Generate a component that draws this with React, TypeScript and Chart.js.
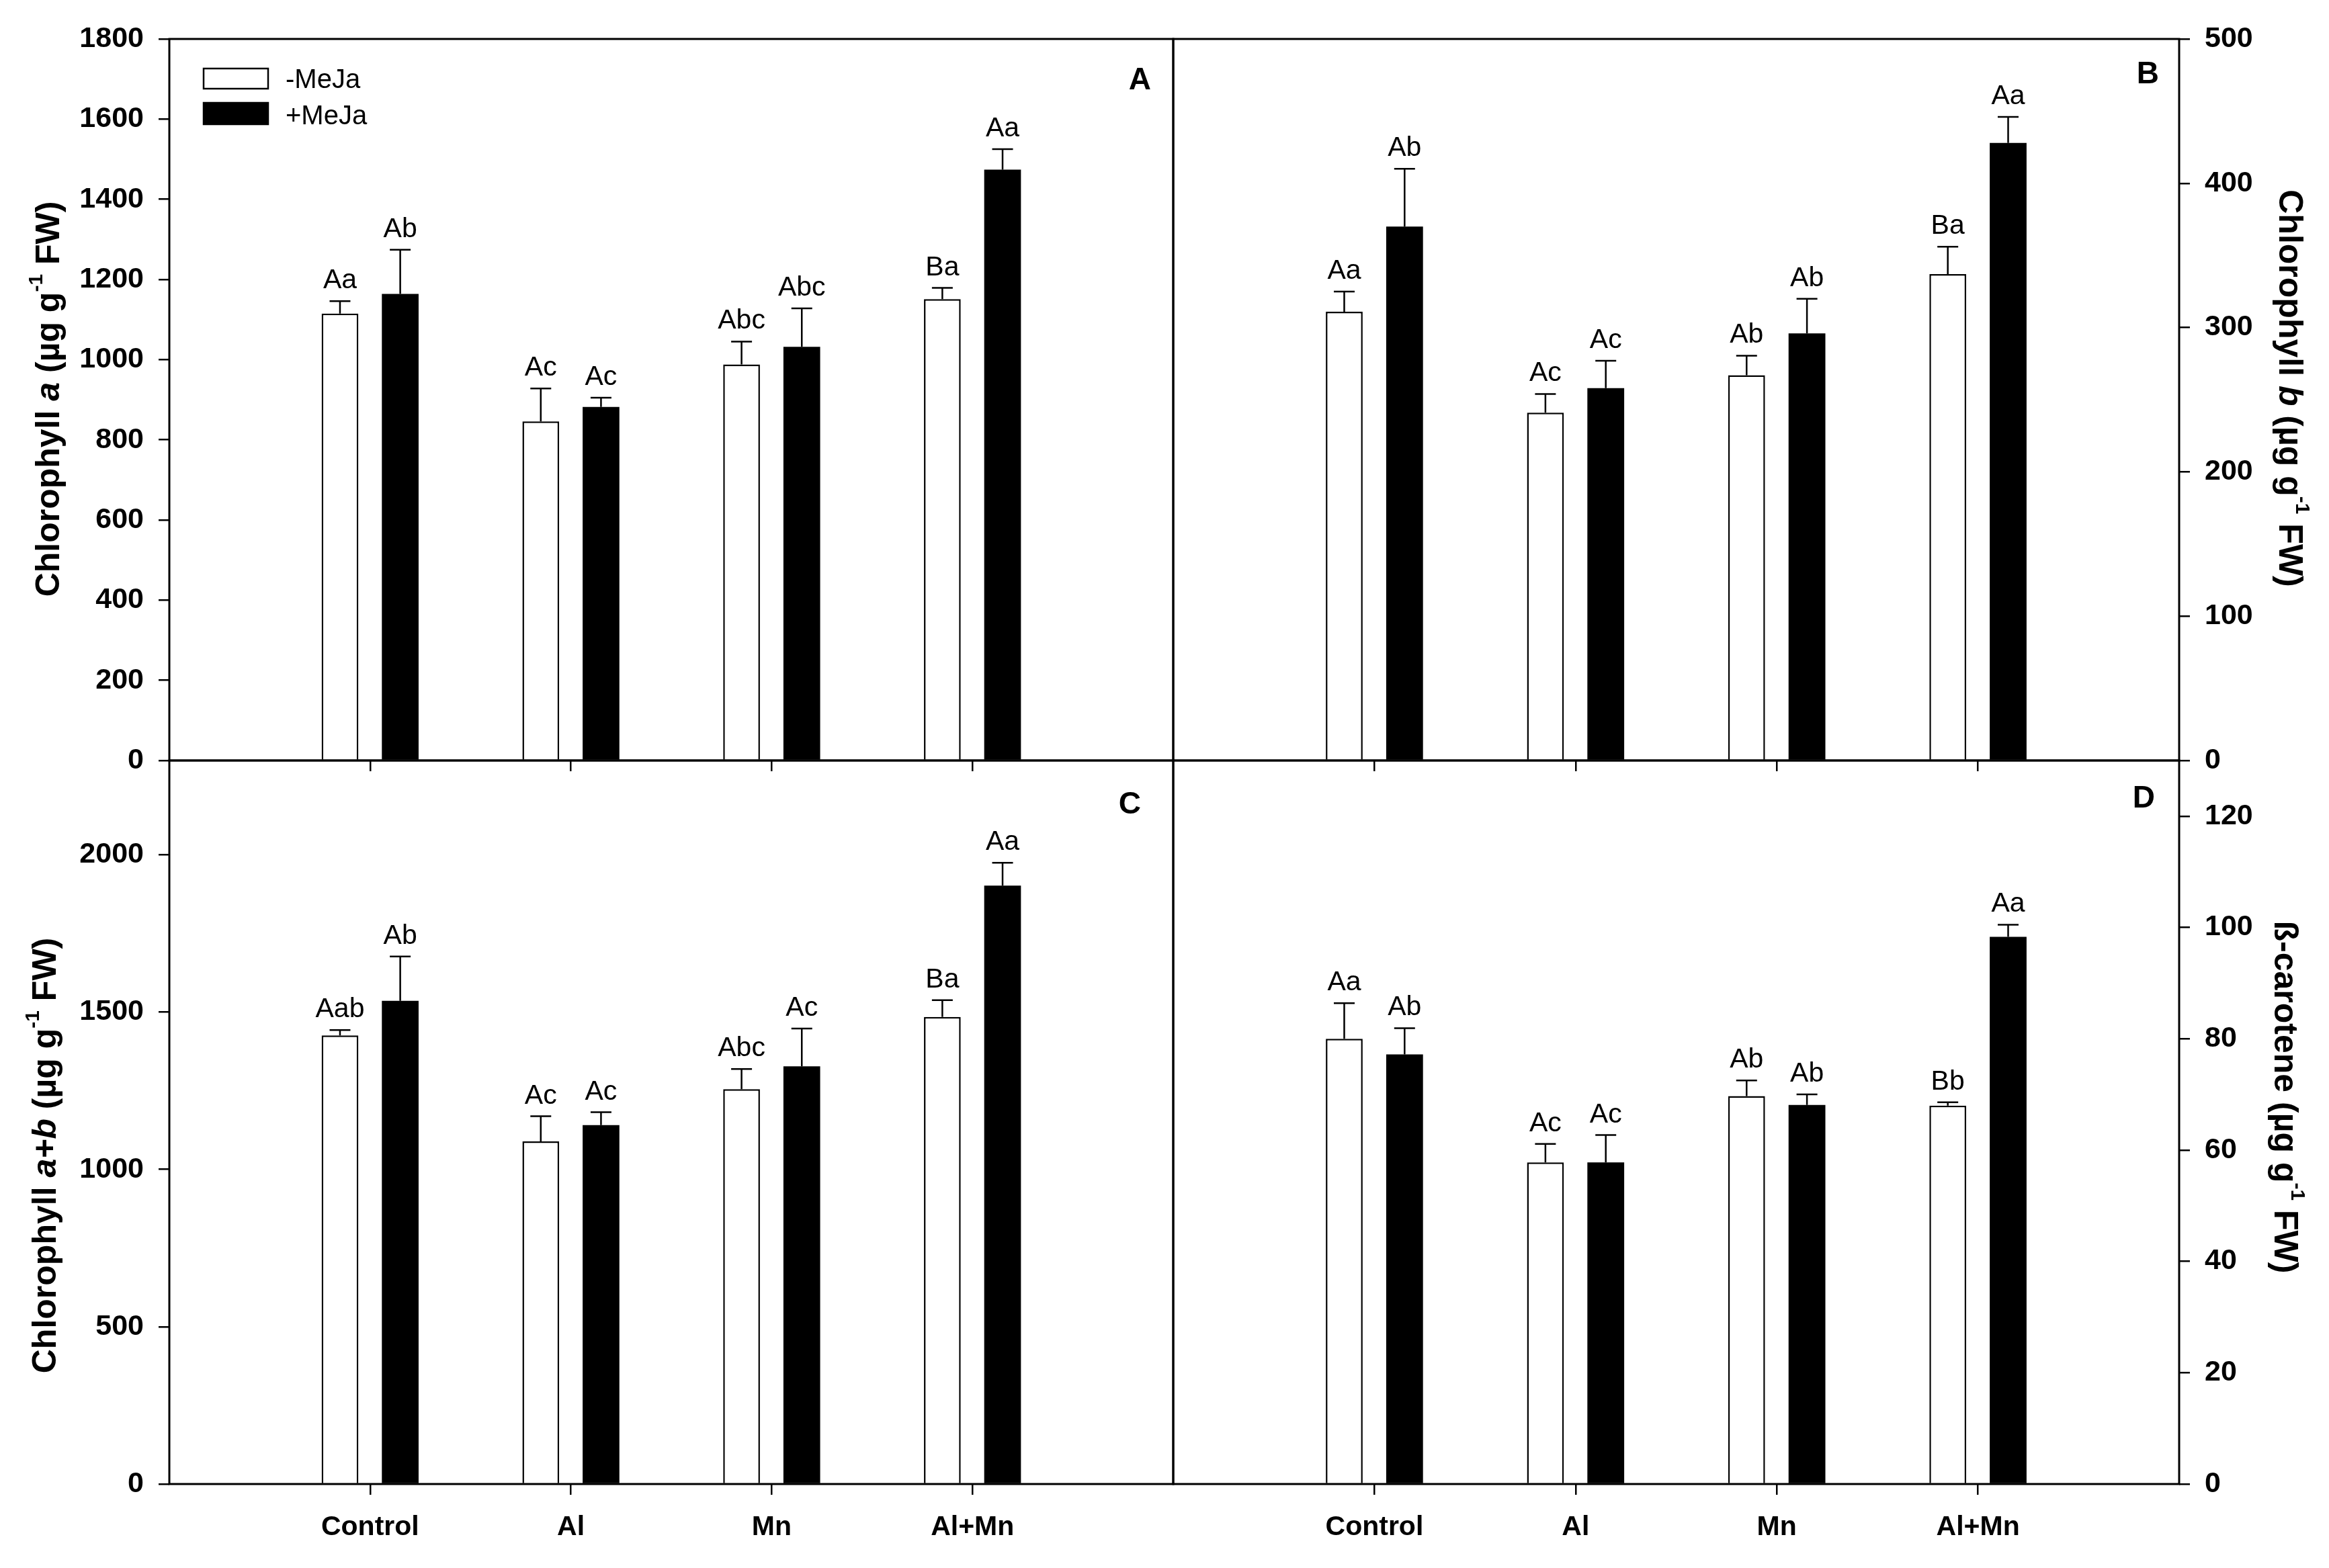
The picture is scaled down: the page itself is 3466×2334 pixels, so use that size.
import React, { useEffect, useRef } from 'react';
import { Chart, registerables } from 'chart.js';

Chart.register(...registerables);

const W = 3466;
const H = 2334;
const FONT = "'Liberation Sans', Arial, Helvetica, sans-serif";

// ---------- data ----------
const categories = ['Control', 'Al', 'Mn', 'Al+Mn'];
const seriesNames = ['-MeJa', '+MeJa'];

// Panel A: Chlorophyll a
const chlA_minus = [1115, 846, 988, 1151];
const chlA_minusErr = [31, 82, 57, 28];
const chlA_plus = [1164, 882, 1032, 1474];
const chlA_plusErr = [110, 23, 96, 51];
const chlA_minusLetters = ['Aa', 'Ac', 'Abc', 'Ba'];
const chlA_plusLetters = ['Ab', 'Ac', 'Abc', 'Aa'];
const chlA_ticks = [0, 200, 400, 600, 800, 1000, 1200, 1400, 1600, 1800];

// Panel B: Chlorophyll b
const chlB_minus = [311, 241, 267, 337];
const chlB_minusErr = [14, 13, 13.5, 19];
const chlB_plus = [370, 258, 296, 428];
const chlB_plusErr = [40, 19, 24, 18];
const chlB_minusLetters = ['Aa', 'Ac', 'Ab', 'Ba'];
const chlB_plusLetters = ['Ab', 'Ac', 'Ab', 'Aa'];
const chlB_ticks = [0, 100, 200, 300, 400, 500];

// Panel C: Chlorophyll a+b
const chlAB_minus = [1426, 1089, 1255, 1485];
const chlAB_minusErr = [17, 80, 64, 53];
const chlAB_plus = [1536, 1141, 1328, 1902];
const chlAB_plusErr = [141, 41, 120, 73];
const chlAB_minusLetters = ['Aab', 'Ac', 'Abc', 'Ba'];
const chlAB_plusLetters = ['Ab', 'Ac', 'Ac', 'Aa'];
const chlAB_ticks = [0, 500, 1000, 1500, 2000];

// Panel D: beta-carotene
const car_minus = [80.0, 57.8, 69.7, 68.0];
const car_minusErr = [6.4, 3.3, 2.8, 0.6];
const car_plus = [77.2, 57.8, 68.1, 98.3];
const car_plusErr = [4.7, 4.9, 1.9, 2.2];
const car_minusLetters = ['Aa', 'Ac', 'Ab', 'Bb'];
const car_plusLetters = ['Ab', 'Ac', 'Ab', 'Aa'];
const car_ticks = [0, 20, 40, 60, 80, 100, 120];

type Seg = { t: string; italic?: boolean; sup?: boolean };

const titleA: Seg[] = [{ t: 'Chlorophyll ' }, { t: 'a', italic: true }, { t: ' (µg g' }, { t: '-1', sup: true }, { t: ' FW)' }];
const titleB: Seg[] = [{ t: 'Chlorophyll ' }, { t: 'b', italic: true }, { t: ' (µg g' }, { t: '-1', sup: true }, { t: ' FW)' }];
const titleC: Seg[] = [{ t: 'Chlorophyll ' }, { t: 'a+b', italic: true }, { t: ' (µg g' }, { t: '-1', sup: true }, { t: ' FW)' }];
const titleD: Seg[] = [{ t: 'ß-carotene (µg g' }, { t: '-1', sup: true }, { t: ' FW)' }];

// ---------- panel layout ----------
type Panel = {
  id: string;
  letter: string;
  letterX: number;
  letterY: number;
  left: number;
  right: number;
  top: number;
  bottom: number;
  axis: 'left' | 'right';
  max: number;
  ticks: number[];
  showX: boolean;
  minus: number[];
  minusErr: number[];
  plus: number[];
  plusErr: number[];
  minusLetters: string[];
  plusLetters: string[];
  title: Seg[];
  titleX: number;
  titleY: number;
  legend: boolean;
};

const panels: Panel[] = [
  {
    id: 'A', letter: 'A', letterX: 1713, letterY: 133,
    left: 252, right: 1746, top: 58, bottom: 1132, axis: 'left', max: 1800, ticks: chlA_ticks, showX: false,
    minus: chlA_minus, minusErr: chlA_minusErr, plus: chlA_plus, plusErr: chlA_plusErr,
    minusLetters: chlA_minusLetters, plusLetters: chlA_plusLetters,
    title: titleA, titleX: 88, titleY: 594, legend: true,
  },
  {
    id: 'B', letter: 'B', letterX: 3213, letterY: 124,
    left: 1746, right: 3243, top: 58, bottom: 1132, axis: 'right', max: 500, ticks: chlB_ticks, showX: false,
    minus: chlB_minus, minusErr: chlB_minusErr, plus: chlB_plus, plusErr: chlB_plusErr,
    minusLetters: chlB_minusLetters, plusLetters: chlB_plusLetters,
    title: titleB, titleX: 3392, titleY: 578, legend: false,
  },
  {
    id: 'C', letter: 'C', letterX: 1698, letterY: 1211,
    left: 252, right: 1746, top: 1132, bottom: 2209, axis: 'left', max: 2300, ticks: chlAB_ticks, showX: true,
    minus: chlAB_minus, minusErr: chlAB_minusErr, plus: chlAB_plus, plusErr: chlAB_plusErr,
    minusLetters: chlAB_minusLetters, plusLetters: chlAB_plusLetters,
    title: titleC, titleX: 83, titleY: 1720, legend: false,
  },
  {
    id: 'D', letter: 'D', letterX: 3207, letterY: 1202,
    left: 1746, right: 3243, top: 1132, bottom: 2209, axis: 'right', max: 130, ticks: car_ticks, showX: true,
    minus: car_minus, minusErr: car_minusErr, plus: car_plus, plusErr: car_plusErr,
    minusLetters: car_minusLetters, plusLetters: car_plusLetters,
    title: titleD, titleX: 3385, titleY: 1633, legend: false,
  },
];

const xLabels = ['', ...categories, ''];
const padArr = <T,>(arr: T[]): (T | null)[] => [null, ...arr, null];

const TITLE_SIZE = 50;

function segFont(s: Seg) {
  if (s.sup) return `bold ${Math.round(TITLE_SIZE * 0.6)}px ${FONT}`;
  return `${s.italic ? 'italic ' : ''}bold ${TITLE_SIZE}px ${FONT}`;
}

function drawTitle(ctx: CanvasRenderingContext2D, segs: Seg[], x: number, y: number, side: 'left' | 'right') {
  ctx.save();
  ctx.translate(x, y);
  ctx.rotate(side === 'left' ? -Math.PI / 2 : Math.PI / 2);
  let total = 0;
  const widths = segs.map((s) => {
    ctx.font = segFont(s);
    const w = ctx.measureText(s.t).width;
    total += w;
    return w;
  });
  let cx = -total / 2;
  ctx.fillStyle = '#000';
  ctx.textAlign = 'left';
  ctx.textBaseline = 'alphabetic';
  segs.forEach((s, i) => {
    ctx.font = segFont(s);
    ctx.fillText(s.t, cx, s.sup ? -TITLE_SIZE * 0.5 : 0);
    cx += widths[i];
  });
  ctx.restore();
}

function makeChart(canvas: HTMLCanvasElement, p: Panel) {
  const AW = 160;
  const XH = 100;
  const padding =
    p.axis === 'left'
      ? { left: p.left - AW, right: W - p.right, top: p.top, bottom: H - p.bottom - XH }
      : { left: p.left, right: W - p.right - AW, top: p.top, bottom: H - p.bottom - XH };

  const errorBars = {
    id: 'errorBars' + p.id,
    afterDatasetsDraw(chart: any) {
      const ctx = chart.ctx as CanvasRenderingContext2D;
      const yScale = chart.scales.y;
      chart.data.datasets.forEach((ds: any, di: number) => {
        const meta = chart.getDatasetMeta(di);
        meta.data.forEach((bar: any, i: number) => {
          const v = ds.data[i];
          const e = ds.errors[i];
          if (v == null || e == null) return;
          const x = bar.x;
          const yTop = yScale.getPixelForValue(v);
          const yErr = yScale.getPixelForValue(v + e);
          ctx.save();
          ctx.strokeStyle = '#000';
          ctx.lineWidth = 2.5;
          ctx.beginPath();
          ctx.moveTo(x, yTop);
          ctx.lineTo(x, yErr);
          ctx.moveTo(x - 15.5, yErr);
          ctx.lineTo(x + 15.5, yErr);
          ctx.stroke();
          ctx.font = `41px ${FONT}`;
          ctx.fillStyle = '#000';
          ctx.textAlign = 'center';
          ctx.textBaseline = 'alphabetic';
          ctx.fillText(ds.letters[i], x, yErr - 19);
          ctx.restore();
        });
      });
    },
  };

  const decor = {
    id: 'decor' + p.id,
    afterDraw(chart: any) {
      const ctx = chart.ctx as CanvasRenderingContext2D;
      const a = chart.chartArea;
      ctx.save();
      ctx.strokeStyle = '#000';
      ctx.lineWidth = 3;
      ctx.strokeRect(a.left, a.top, a.right - a.left, a.bottom - a.top);
      // panel letter
      ctx.font = `bold 46px ${FONT}`;
      ctx.fillStyle = '#000';
      ctx.textAlign = 'right';
      ctx.textBaseline = 'alphabetic';
      ctx.fillText(p.letter, p.letterX, p.letterY);
      ctx.restore();
      drawTitle(ctx, p.title, p.titleX, p.titleY, p.axis);
      if (p.legend) {
        const dsets = chart.data.datasets;
        const boxX = 303;
        const rows = [
          { y: 102, h: 30, base: 131 },
          { y: 153, h: 32, base: 185 },
        ];
        ctx.save();
        dsets.forEach((ds: any, i: number) => {
          const r = rows[i];
          ctx.fillStyle = ds.backgroundColor;
          ctx.fillRect(boxX, r.y, 96, r.h);
          ctx.strokeStyle = '#000';
          ctx.lineWidth = 2.5;
          ctx.strokeRect(boxX, r.y, 96, r.h);
          ctx.fillStyle = '#000';
          ctx.font = `40px ${FONT}`;
          ctx.textAlign = 'left';
          ctx.textBaseline = 'alphabetic';
          ctx.fillText(ds.label, 425, r.base);
        });
        ctx.restore();
      }
    },
  };

  const yTickFont = { family: FONT, size: 43, weight: 'bold' as const };
  const xTickFont = { family: FONT, size: 41, weight: 'bold' as const };

  return new Chart(canvas, {
    type: 'bar',
    data: {
      labels: xLabels,
      datasets: [
        {
          label: seriesNames[0],
          data: padArr(p.minus),
          errors: padArr(p.minusErr),
          letters: padArr(p.minusLetters),
          backgroundColor: '#ffffff',
          borderColor: '#000000',
          borderWidth: 2.5,
          categoryPercentage: 0.6,
          barPercentage: 0.61,
        } as any,
        {
          label: seriesNames[1],
          data: padArr(p.plus),
          errors: padArr(p.plusErr),
          letters: padArr(p.plusLetters),
          backgroundColor: '#000000',
          borderColor: '#000000',
          borderWidth: 0,
          categoryPercentage: 0.6,
          barPercentage: 0.61,
        } as any,
      ],
    },
    options: {
      responsive: false,
      devicePixelRatio: 1,
      animation: false,
      layout: { padding },
      plugins: {
        legend: { display: false },
        tooltip: { enabled: false },
        title: { display: false },
      },
      scales: {
        x: {
          type: 'category',
          offset: false,
          grid: {
            offset: false,
            drawOnChartArea: false,
            drawTicks: true,
            tickLength: 16,
            lineWidth: 2.5,
            color: (c: any) => (c.index === 0 || c.index === xLabels.length - 1 ? 'rgba(0,0,0,0)' : '#000'),
          },
          border: { display: false },
          ticks: {
            display: p.showX,
            autoSkip: false,
            maxRotation: 0,
            minRotation: 0,
            font: xTickFont,
            color: '#000',
            padding: 24,
          },
          afterFit: (s: any) => {
            s.height = XH;
          },
        },
        y: {
          type: 'linear',
          position: p.axis,
          min: 0,
          max: p.max,
          afterBuildTicks: (s: any) => {
            s.ticks = p.ticks.map((v) => ({ value: v }));
          },
          grid: {
            drawOnChartArea: false,
            drawTicks: true,
            tickLength: 16,
            lineWidth: 2.5,
            color: '#000',
          },
          border: { display: false },
          ticks: {
            font: yTickFont,
            color: '#000',
            padding: 22,
            callback: (v: any) => String(v),
          },
          afterFit: (s: any) => {
            s.width = AW;
          },
        },
      },
    } as any,
    plugins: [errorBars, decor],
  });
}

export default function App() {
  const r0 = useRef<HTMLCanvasElement>(null);
  const r1 = useRef<HTMLCanvasElement>(null);
  const r2 = useRef<HTMLCanvasElement>(null);
  const r3 = useRef<HTMLCanvasElement>(null);
  const refs = [r0, r1, r2, r3];

  useEffect(() => {
    const charts = panels.map((p, i) => makeChart(refs[i].current as HTMLCanvasElement, p));
    return () => {
      charts.forEach((c) => c.destroy());
    };
  }, []);

  return (
    <div
      style={{
        position: 'absolute',
        left: 0,
        top: 0,
        width: W,
        height: H,
        background: '#ffffff',
        overflow: 'hidden',
      }}
    >
      {panels.map((p, i) => (
        <canvas
          key={p.id}
          ref={refs[i]}
          width={W}
          height={H}
          style={{ position: 'absolute', left: 0, top: 0, width: W, height: H }}
        />
      ))}
    </div>
  );
}
